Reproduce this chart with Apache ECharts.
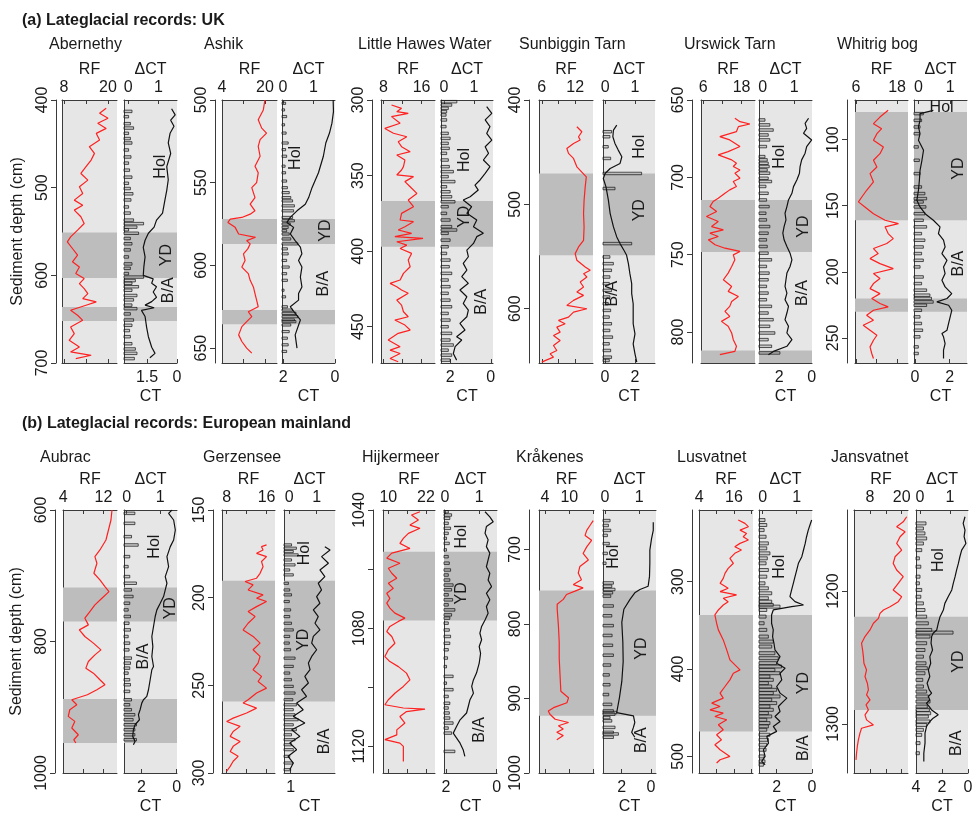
<!DOCTYPE html>
<html><head><meta charset="utf-8">
<script src="https://cdn.jsdelivr.net/npm/echarts@6/dist/echarts.min.js"></script>
<style>html,body{margin:0;padding:0;background:#fff}#c{width:972px;height:817px}</style>
</head><body><div id="c"></div><script>
// ---------- DATA (depth in cm, value) ----------
const sectionTitles = ['(a) Lateglacial records: UK', '(b) Lateglacial records: European mainland'];
const siteNames = ['Abernethy','Ashik','Little Hawes Water','Sunbiggin Tarn','Urswick Tarn','Whitrig bog','Aubrac','Gerzensee','Hijkermeer','Kråkenes','Lusvatnet','Jansvatnet'];

const abernethyRF = [[409.5,19.5],[415.2,17.7],[420.9,20],[426.6,17.2],[432.4,19.5],[438.1,16.8],[445.7,17.7],[453.3,14.9],[460.9,16.3],[468.5,15.4],[476.1,14.0],[483.8,12.6],[491.4,14.5],[499,12.2],[506.6,13.1],[514.2,10.8],[520,13.1],[525.6,10.8],[533.2,12.6],[540.9,13.5],[548.5,11.7],[556.1,9.8],[561.8,8.9],[569.4,10.3],[577,11.7],[584.6,10.3],[590.4,12.2],[598,11.2],[603.7,13.5],[609.4,12.2],[615.1,13.5],[620.8,14.5],[626.5,13.1],[630.3,16.8],[634.1,14],[639.8,9.8],[645.5,11.7],[651.3,13.1],[658.9,9.8],[666.5,10.8],[674.1,9.4],[681.7,12.2],[687.4,9.8],[691.2,15.4],[695,11.2]];
const abernethyDCT = [[410,1.44],[417,1.56],[423,1.41],[430,1.52],[438,1.39],[449,1.33],[461,1.41],[476,1.28],[491,1.33],[503,1.28],[514,1.22],[529,1.14],[537,0.94],[545,0.86],[552,0.67],[560,0.56],[568,0.5],[579,0.56],[590,0.52],[600,0.5],[604,0.83],[609,0.78],[613,0.94],[619,0.83],[625,0.94],[630,0.78],[634,0.56],[637,0.86],[640,0.44],[647,0.56],[659,0.61],[670,0.67],[682,0.78],[689,0.89],[694,0.72]];
const abernethyCT = [[413,2.25],[419,2.42],[427,2.33],[432,2.17],[438,2.42],[444,2.33],[449,2.25],[457,2.42],[465,2.3],[472,2.42],[480,2.37],[488,2.25],[495,2.42],[501,2.33],[507,2.2],[514,2.3],[522,2.42],[529,2.33],[537,2.17],[541,1.67],[545,2.0],[548,2.42],[552,1.92],[558,2.33],[564,2.25],[571,2.33],[579,2.42],[587,2.25],[592,2.33],[598,2.42],[602,1.67],[606,2.08],[609,2.25],[613,1.92],[617,2.25],[623,2.0],[628,2.17],[634,2.25],[638,2.0],[644,2.33],[651,2.17],[657,2.25],[663,2.37],[670,2.33],[678,2.25],[684,2.08],[689,2.0],[695,2.13]];
const abernethyZones = [[551,603],[636,652]];
const abernethyLabels = [['Hol',1.06,476],['YD',1.28,577],['B/A',1.33,617]];

const ashikRF = [[500,20],[506,19.4],[512,17.5],[517,18.8],[520,20.6],[524,18.2],[528,17.5],[534,18.2],[540,16.3],[544,17.5],[550,16.9],[553,15.1],[559,16.3],[563,14.5],[567,16.3],[569,14.5],[571,11.4],[572,7.1],[574,6.2],[577,8.9],[581,10.2],[583,16.5],[585,13.2],[587,14.5],[590,13.6],[593,12],[597,12.6],[601,11.4],[605,13.8],[609,14.5],[613,15.7],[617,16.3],[621,16.9],[625,17.5],[628,13.8],[631,15.1],[634,13.2],[637,11.4],[642,10.2],[646,11.4],[650,13.2],[653,15.1]];
const ashikDCT = [[500,1.64],[507,1.65],[514,1.6],[520,1.52],[526,1.4],[534,1.32],[544,1.16],[553,0.95],[559,0.84],[563,0.73],[567,0.46],[571,0.24],[574,0.13],[577,0.35],[581,0.24],[585,0.4],[589,0.57],[593,0.62],[597,0.51],[601,0.62],[607,0.57],[613,0.62],[617,0.51],[621,0.51],[625,0.24],[629,0.4],[633,0.57],[642,0.4],[650,0.46]];
const ashikCT = [[502,1.91],[506,1.95],[510,1.87],[515,1.95],[520,1.89],[526,1.81],[530,1.91],[534,1.87],[540,1.93],[544,1.91],[549,1.87],[553,1.84],[556,1.77],[559,1.71],[561,1.64],[564,1.57],[567,1.6],[571,1.64],[573,1.57],[575,1.73],[577,1.81],[579,1.87],[581,1.77],[584,1.71],[587,1.44],[590,1.84],[593,1.81],[597,1.87],[601,1.77],[605,1.87],[609,1.84],[615,1.97],[619,1.91],[625,1.84],[627,1.64],[629,1.51],[631,1.44],[633,1.57],[634,1.51],[636,1.71],[640,1.77],[644,1.84],[648,1.81],[652,1.87]];
const ashikZones = [[572,587],[627,635.5]];
const ashikLabels = [['Hol',0.4,535],['YD',1.4,579],['B/A',1.32,611]];

const lhwRF = [[303.3,9.7],[305.5,11.8],[307.7,10.8],[308.8,13.2],[311,9.7],[315.4,11.5],[318.8,8.3],[322,10.1],[324.3,12.9],[327.6,11.1],[330.9,11.8],[334.2,13.6],[336.4,10.8],[339.7,12.5],[344.1,12.2],[346.3,11.8],[349.6,10.8],[350.7,14.3],[354,12.5],[357.4,13.6],[361.8,15],[366.2,13.2],[370.6,14.3],[375,11.8],[379.4,11.5],[380.5,14.3],[383.8,12.5],[386,11.1],[388.2,13.9],[390.4,10.4],[391.5,16.3],[393.8,10.8],[396,12.9],[398.2,11.5],[401.5,13.9],[405.9,13.2],[410.3,13.6],[414.7,12.2],[419.1,11.5],[421.3,9.4],[423.5,10.8],[425.7,11.8],[427.9,13.2],[432.4,10.8],[435.7,11.8],[440.1,12.2],[443.4,13.2],[445.6,10.4],[448.9,12.5],[452.2,13.6],[454.4,11.1],[458.8,9.0],[463.2,11.5],[465.5,9.4],[467.7,11.5],[471,9.4],[473.2,11.1]];
const lhwDCT = [[304.4,1.42],[308.8,1.59],[313.2,1.37],[317.6,1.53],[322.1,1.42],[326.5,1.59],[330.9,1.37],[335.3,1.48],[339.7,1.31],[344.1,1.53],[348.5,1.37],[352.9,1.2],[356.3,1.03],[359.6,1.14],[364,0.87],[366.2,0.64],[370.6,0.92],[375,0.76],[379.4,1.09],[383.8,0.98],[388.2,1.31],[390.4,1.09],[394.9,0.98],[399.3,0.76],[403.7,0.81],[408.1,0.64],[412.5,0.76],[416.9,0.59],[421.3,0.81],[425.7,0.53],[430.2,0.76],[434.6,0.64],[439,0.81],[443.4,0.76],[447.8,0.53],[452.2,0.7],[456.6,0.42],[458.8,0.59],[463.2,0.37],[467.7,0.31],[472.1,0.42]];
const lhwCT = [[301.1,1.67],[303.3,1.92],[305.5,2.09],[307.7,2.17],[309.9,2.2],[313.2,2.17],[317.6,2.2],[322.1,2.09],[325.4,2.0],[328.7,2.09],[332,2.04],[335.3,2.17],[339.7,2.09],[344.1,2.04],[347.4,1.84],[350.7,2.09],[354,1.76],[357.4,2.17],[360.7,2.0],[364,1.92],[367.3,1.76],[370.6,2.09],[375,2.17],[379.4,2.0],[383.8,1.92],[386,1.67],[388.2,2.09],[392.7,2.0],[397.1,2.09],[401.5,2.17],[405.9,2.0],[410.3,2.04],[414.7,1.92],[419.1,2.09],[423.5,2.0],[427.9,2.09],[432.4,2.0],[436.8,1.92],[441.2,2.09],[445.6,2.0],[450,2.09],[454.4,1.92],[458.8,2.0],[462.1,1.84],[465.5,2.09],[468.8,1.92],[472.1,2.0]];
const lhwZones = [[366.8,397.1]];
const lhwLabels = [['Hol',0.7,339.7],['YD',0.7,377.2],['B/A',1.26,433.5]];

const sunbigginRF = [[425.6,12.3],[430.4,13.2],[435.2,12.6],[438.4,12.9],[441.6,11.7],[446.4,10.5],[451.2,10.8],[456,11.7],[464,12.3],[473.6,14],[483.2,13.8],[496,13.6],[508.8,13.5],[521.6,13.6],[534.4,13.5],[540.8,12.6],[547.2,12],[553.6,12.3],[560,13.8],[563.2,14.7],[566.4,13.5],[569.6,14.1],[574.4,12.9],[579.2,13.5],[584,12.3],[587.2,13.5],[592,11.7],[596.8,10.5],[600,14.1],[603.2,11.7],[608,10.8],[611.2,9],[614.4,10.2],[617.6,8.7],[622.4,9.3],[625.6,8.1],[630.4,9.3],[635.2,8.1],[640,8.7],[643.2,7.5],[646.4,8.1],[649,6.9],[651.2,6]];
const sunbigginDCT = [[424,0.39],[428.8,0.28],[435.2,0.26],[441.6,0.33],[448,0.44],[454.4,0.56],[460.8,0.5],[465.6,0.17],[470.4,0],[475.2,-0.06],[483.2,0.03],[496,0.11],[508.8,0.17],[521.6,0.28],[531.2,0.39],[537.6,0.5],[544,0.63],[548.8,0.72],[556.8,0.78],[566.4,0.83],[576,0.89],[585.6,0.89],[595.2,0.94],[604.8,0.94],[614.4,0.94],[624,1.0],[633.6,0.94],[643.2,1.0],[651.2,1.06]];
const sunbigginCT = [[430.4,0.44],[435.2,0.33],[444.8,0.22],[456,0.38],[470.4,2.44],[484.8,0.67],[537.6,1.78],[550.4,0.33],[556.8,0.56],[563.2,0.44],[569.6,0.33],[576,0.29],[582.4,0.44],[588.8,0.33],[595.2,0.22],[601.6,0.38],[608,0.29],[614.4,0.44],[620.8,0.33],[627.2,0.51],[633.6,0.29],[640,0.38],[646.4,0.44],[649.6,0.29]];
const sunbigginZones = [[470.4,548.8]];
const sunbigginLabels = [['Hol',1.17,444.8],['YD',1.17,505.6],['B/A',0.26,585.6]];

const urswickRF = [[661.8,15.9],[664,17.5],[665.5,20.6],[667.2,17],[670.4,16.4],[673.7,11.2],[675.8,14.3],[680.1,17.5],[683.4,13.8],[685.5,10.7],[688.7,14.9],[690.9,16.4],[693,15.4],[695.2,17.5],[697.3,15.9],[700.6,17.5],[702.7,15.4],[705.9,16.4],[708.1,14.3],[710.3,12.8],[713.5,10.7],[715.6,9.1],[718.9,8.1],[722.1,10.2],[725.3,7],[728.5,10.7],[731.8,8.6],[733.9,12.3],[736.1,8.1],[738.2,10.7],[740.4,7.6],[743.6,9.7],[745.8,12.8],[747.9,17.5],[750.1,15.4],[753.3,15.9],[757.6,14.9],[761.9,13.8],[766.2,12.3],[770.5,14.9],[773.7,13.8],[777,17],[780.2,14.9],[783.4,14.3],[786.6,12.8],[789.9,14.3],[793.1,11.7],[796.3,13.8],[800.6,14.9],[804.9,15.4],[809.2,16.4],[812.5,15.9],[814.6,11.2]];
const urswickDCT = [[661.8,1.46],[665.1,1.35],[668.3,1.4],[671.5,1.3],[675.8,1.56],[680.1,1.4],[684.4,1.35],[688.7,1.24],[693,1.19],[697.3,1.17],[701.6,1.09],[706,0.98],[710.3,0.93],[714.6,0.82],[718.9,0.77],[723.2,0.71],[727.5,0.74],[731.8,0.68],[736.1,0.64],[740.4,0.68],[744.7,0.77],[749,0.87],[753.3,0.93],[757.6,0.87],[761.9,0.77],[766.2,0.74],[770.5,0.71],[774.8,0.77],[779.1,0.71],[783.4,0.82],[787.7,0.77],[792,0.71],[796.3,0.82],[800.6,0.77],[804.9,0.93],[809.2,0.77],[812.5,0.34],[814.6,0.18]];
const urswickCT = [[662.9,2.88],[666.1,2.58],[669.4,2.37],[672.6,2.68],[675.8,2.58],[680.1,2.78],[686.6,2.88],[688.7,2.74],[690.9,2.68],[693,2.62],[695.2,2.74],[697.3,2.58],[700.6,2.68],[702.7,2.47],[705.9,2.82],[710.3,2.68],[714.6,2.78],[718.9,2.62],[723.2,2.82],[727.5,2.78],[731.8,2.58],[736.1,2.68],[740.4,2.78],[744.7,2.74],[749,2.68],[753.3,2.47],[757.6,2.78],[761.9,2.62],[766.2,2.68],[770.5,2.78],[774.8,2.68],[779.1,2.78],[783.4,2.47],[787.7,2.68],[792,2.37],[796.3,2.58],[800.6,2.27],[804.9,2.68],[809.2,2.47],[813.5,1.96]];
const urswickZones = [[714.6,748.3],[812,820]];
const urswickLabels = [['Hol',0.55,686.6],['YD',1.3,731.8],['B/A',1.27,774.8]];

const whitrigRF = [[77.8,15.4],[82.9,13],[87.9,11.1],[91.7,13.5],[95.5,12.1],[100.5,11.1],[105.5,14],[110.6,13],[115.6,11.1],[120.7,12.1],[125.7,10.1],[132,11.1],[138.3,9.1],[143.4,7.7],[147.1,6.7],[150.9,8.6],[156,11.1],[161,14.5],[163.5,18.4],[166,14.5],[171.1,15.4],[174.9,16.9],[178.6,15],[182.4,11.1],[186.2,12.5],[190,10.1],[193.8,13],[197.6,16.9],[201.3,11.1],[205.1,13],[208.9,11.1],[212.7,10.1],[216.5,13],[220.2,10.6],[224,13],[226.5,15.4],[229.1,11.1],[232.8,9.1],[236.6,11.1],[240.4,8.1],[244.2,10.1],[248,12.1],[251.8,11.1],[256.8,10.1],[261.8,10.6],[265.6,11.1]];
const whitrigDCT = [[77.8,0.47],[80.3,0.05],[85.4,0.05],[90.4,0],[95.5,0.05],[100.5,0],[108,0.16],[115.6,0.11],[123.2,0.05],[130.7,0.03],[138.3,0],[145.9,-0.05],[150.9,0.05],[156,0.21],[161,0.47],[166,0.68],[171.1,0.63],[176.1,0.79],[181.2,0.84],[186.2,0.74],[191.3,0.9],[196.3,0.79],[201.3,0.84],[206.4,0.74],[211.4,0.84],[216.5,1.05],[220.2,0.9],[222.8,0.58],[225.3,0.95],[229.1,1.05],[234.1,1.0],[239.1,0.95],[244.2,0.9],[246.7,0.74],[249.2,0.79],[254.3,0.84],[259.3,0.79],[265.6,0.79]];
const whitrigCT = [[80.3,0.48],[85.4,0.38],[90.4,0.29],[95.5,0.25],[105.5,0.19],[115.6,0.25],[125.7,0.29],[135.8,0.38],[140.8,0.57],[144.6,0.67],[147.1,0.48],[150.9,0.63],[156,0.57],[161,0.48],[166,0.67],[171.1,0.38],[176.1,0.57],[181.2,0.48],[186.2,0.38],[191.3,0.48],[196.3,0.29],[203.9,0.48],[208.9,0.38],[213.9,0.67],[217.7,0.86],[220.2,0.95],[222.8,1.05],[225.3,0.67],[229.1,0.38],[234.1,0.29],[239.1,0.38],[244.2,0.44],[249.2,0.29],[256.8,0.19],[261.8,0.19]];
const whitrigZones = [[79.1,161],[220.2,230.3]];
const whitrigLabels = [['Hol',0.73,75.8,0],['YD',1.26,121.9],['B/A',1.26,193.8]];

const aubracRF = [[600,13.7],[615.2,13.5],[630.4,13],[645.6,12.5],[660.8,11.3],[670.9,10.3],[681,10.7],[696.2,10.1],[706.3,11.3],[716.5,12.3],[724.1,13.1],[734.2,11.7],[744.3,10.3],[754.4,9.3],[764.6,8.3],[774.7,9],[782.3,7.2],[792.4,8.3],[802.5,10],[812.7,11.5],[820.3,10.3],[830.4,9],[840.5,8.5],[848.1,10],[858.2,11.3],[865.8,12.3],[873.4,10.7],[881,8.8],[888.6,5.7],[896.2,6.7],[903.8,5.3],[913.9,5],[921.5,6.3],[931.6,5.7],[941.8,7],[949.4,6.1],[954.4,6.5]];
const aubracDCT = [[600,1.35],[605.1,1.25],[615.2,1.4],[630.4,1.45],[645.6,1.4],[655.7,1.3],[670.9,1.2],[686.1,1.25],[701.3,1.15],[711.4,1.2],[721.5,1.15],[731.6,1.1],[741.8,1.0],[751.9,0.9],[762,0.85],[777.2,0.8],[792.4,0.75],[807.6,0.78],[822.8,0.75],[838,0.8],[843,0.75],[858.2,0.7],[873.4,0.65],[883.5,0.6],[888.6,0.5],[893.7,0.45],[903.8,0.4],[911.4,0.35],[919,0.38],[926.6,0.25],[934.2,0.2],[944.3,0.18],[951.9,0.25],[957,0.2]];
const aubracCT = [[605.1,2.38],[620.3,2.38],[640.5,2.57],[653.2,2.19],[670.9,2.67],[686.1,2.76],[701.3,2.67],[711.4,2.29],[721.5,2.57],[731.6,2.48],[741.8,2.67],[751.9,2.76],[762,2.63],[772.2,2.71],[782.3,2.63],[792.4,2.76],[802.5,2.67],[812.7,2.71],[825.3,2.57],[832.9,2.63],[840.5,2.67],[848.1,2.76],[858.2,2.67],[865.8,2.63],[875.9,2.67],[888.6,2.57],[896.2,2.67],[903.8,2.57],[911.4,2.38],[919,2.48],[926.6,2.29],[934.2,2.38],[941.8,2.38],[949.4,2.29]];
const aubracZones = [[718,769.6],[887.6,954.4]];
const aubracLabels = [['Hol',0.82,655.7],['YD',1.3,749.4],['B/A',0.5,822.8]];

const gerzenseeRF = [[169.9,16],[170.9,15],[172.8,15.3],[174.7,14],[176.6,16],[179.4,15],[182.3,15.3],[186.1,14.7],[188.9,14],[190.8,11.7],[192.7,13.3],[195.6,12.3],[198.4,15.3],[200.3,14],[202.2,16],[205.1,14],[207.9,12.3],[210.8,13.7],[214.6,12.3],[218.4,11.3],[222.1,13.3],[225.9,14.7],[229.7,13.3],[233.5,14.7],[237.3,14.3],[241.1,13.3],[244.9,15],[247.8,14.3],[251.6,16],[254.4,14],[258.2,12.3],[260.1,11.3],[263,14],[265.8,12],[268.7,9.3],[270.6,8],[273.4,10.7],[276.3,9.3],[279.1,8.7],[282,10.7],[284.8,9.3],[287.7,8.7],[290.5,10.3],[293.3,9.3],[296.2,8.7],[299,8]];
const gerzenseeDCT = [[170.9,1.3],[172.8,1.49],[176.6,1.18],[180.4,1.43],[184.2,1.12],[188,1.3],[191.8,1.06],[195.6,1.18],[199.4,1.0],[203.2,1.12],[207,0.88],[210.8,1.06],[214.6,0.94],[218.4,1.12],[222.1,0.88],[225.9,0.82],[229.7,1.0],[233.5,0.82],[237.3,0.7],[241.1,0.76],[244.9,0.57],[248.7,0.7],[252.5,0.45],[256.3,0.63],[260.1,0.27],[263.9,0.51],[267.7,0.15],[271.5,0.57],[275.3,0.09],[279.1,0.39],[282.9,0.02],[286.7,0.27],[290.5,-0.04],[294.3,0.15],[298.1,0.02]];
const gerzenseeCT = [[169.9,0.98],[171.8,0.87],[173.7,0.94],[175.6,0.83],[178.5,0.98],[181.3,0.9],[184.2,1.02],[187,0.94],[191.8,1.05],[195.6,1.02],[198.4,0.98],[202.2,1.03],[207,1.0],[210.8,1.02],[214.6,0.98],[218.4,0.94],[222.1,1.02],[225.9,1.03],[229.7,1.0],[234.5,0.9],[239.2,0.94],[243,1.02],[246.8,0.98],[250.6,0.94],[254.4,0.9],[258.2,0.95],[261.1,0.87],[263.9,0.94],[266.8,0.9],[269.6,0.83],[272.5,0.94],[275.3,0.87],[278.2,0.98],[281,0.9],[283.9,0.98],[286.7,0.94],[290.5,1.02],[294.3,0.95],[298.1,1.0]];
const gerzenseeZones = [[190.4,259.2]];
const gerzenseeLabels = [['Hol',0.57,174.7],['YD',0.54,224],['B/A',1.3,282]];

const hijkermeerRF = [[1040.6,20.1],[1041.7,17.4],[1043.4,19.6],[1045.1,16.9],[1046.2,20.1],[1047.9,16.4],[1049.6,14.8],[1051.3,13.7],[1053,16.9],[1054.6,11.1],[1056.3,9.5],[1058,13.7],[1059.7,10],[1061.4,11.1],[1063.1,12.7],[1064.8,10],[1066.5,11.6],[1068.2,9.5],[1069.9,10.5],[1071.5,9.5],[1073.2,10.5],[1074.9,12.1],[1076.6,15.3],[1077.7,13.2],[1079.4,10.5],[1081.1,9.5],[1082.8,11.1],[1085.1,12.1],[1087.3,10],[1089.6,8.9],[1091.3,10.5],[1093,13.2],[1095.2,15.8],[1097.5,16.9],[1099.7,14.8],[1102,12.1],[1104.2,10],[1105.9,8.9],[1107,14.8],[1107.4,21.7],[1108.2,15.8],[1109.9,13.7],[1112.1,15.3],[1114.4,12.7],[1116.1,12.7],[1117.7,8.9],[1118.9,13.7],[1120,14.8],[1122.3,14.8],[1125.1,14.8]];
const hijkermeerDCT = [[1040.6,1.17],[1042.3,1.31],[1044,1.41],[1045.6,1.21],[1047.9,1.17],[1050.1,1.26],[1052.4,1.21],[1054.6,1.31],[1056.9,1.26],[1059.2,1.21],[1061.4,1.31],[1063.7,1.26],[1065.9,1.36],[1068.2,1.21],[1070.4,1.31],[1072.7,1.21],[1074.9,1.26],[1077.2,1.17],[1079.4,1.07],[1081.7,1.02],[1083.9,1.07],[1086.2,1.0],[1088.5,1.04],[1091.8,1.0],[1095.2,0.92],[1097.5,0.83],[1099.7,0.78],[1102,0.83],[1104.2,0.73],[1106.5,0.68],[1108.7,0.63],[1111,0.44],[1113.2,0.34],[1115.5,0.24],[1117.2,0.34],[1118.9,0.44],[1121.1,0.53],[1123.4,0.58]];
const hijkermeerCT = [[1040.6,1.91],[1041.7,1.78],[1042.8,1.85],[1044.5,1.91],[1046.2,1.82],[1047.9,1.91],[1049.6,1.98],[1051.3,1.87],[1053.5,1.98],[1055.8,1.91],[1058,1.87],[1060.3,1.82],[1062,1.91],[1063.7,1.85],[1065.4,1.72],[1067,1.78],[1068.7,1.91],[1070.4,1.74],[1072.1,1.91],[1073.8,1.65],[1075.5,1.78],[1076.6,1.85],[1078.3,1.91],[1080.6,1.87],[1082.8,1.82],[1085.1,1.85],[1087.3,1.91],[1090.1,1.94],[1093,1.98],[1096.3,1.72],[1098.6,1.98],[1100.8,1.72],[1103.1,1.91],[1105.4,1.85],[1107,1.91],[1108.7,1.87],[1110.4,1.85],[1112.1,1.72],[1113.8,1.91],[1115.5,1.78],[1121.7,1.65]];
const hijkermeerZones = [[1054.1,1077.4]];
const hijkermeerLabels = [['Hol',0.49,1049],['YD',0.49,1068.2],['B/A',1.02,1114.4]];

const krakenesRF = [[661.2,15.9],[667.8,15.1],[674.4,14.3],[681.1,13.9],[687.7,15.5],[696.5,14.3],[705.3,13.4],[714.1,14.7],[722.9,12.6],[731.7,12.2],[740.5,13],[747.1,11],[751.5,13.4],[755.9,11.4],[760.4,9.3],[767,8.5],[773.6,7],[780.2,7],[802.2,7.3],[824.2,7.5],[846.3,7.5],[868.3,7.7],[890.3,7.9],[899.1,9.8],[905.7,9.4],[912.3,6.1],[916.7,4.8],[921.1,5.2],[927.8,6.5],[932.2,9.8],[936.6,7.3],[941,8.5],[945.4,6.9],[949.8,8.5],[955.5,6.9]];
const krakenesDCT = [[663.4,1.41],[674.4,1.41],[685.5,1.36],[700.9,1.31],[718.5,1.31],[736.1,1.3],[749.3,1.26],[753.7,1.02],[758.1,0.87],[767,0.73],[780.2,0.55],[797.8,0.49],[824.2,0.52],[850.7,0.53],[877.1,0.49],[899.1,0.42],[918.9,0.34],[923.3,0.83],[932.2,0.87],[938.8,0.83],[945.4,0.78],[952,0.87]];
const krakenesCT = [[661.2,2.79],[667.8,2.9],[674.4,2.74],[681.1,2.97],[692.1,2.84],[705.3,2.97],[718.5,3.06],[744.9,2.56],[749.3,2.67],[753.7,2.45],[758.1,2.61],[762.6,2.74],[775.8,2.56],[789,2.67],[802.2,2.56],[815.4,2.65],[828.6,2.61],[841.9,2.56],[855.1,2.74],[868.3,2.84],[881.5,2.79],[894.7,2.88],[907.9,2.67],[916.7,2.56],[918.9,2.33],[921.1,2.45],[925.6,2.79],[930,2.67],[938.8,2.45],[945.4,2.56],[947.6,2.22],[952,2.56]];
const krakenesZones = [[755,923.3]];
const krakenesLabels = [['Hol',0.24,709.7],['YD',1.07,833],['B/A',1.07,956]];

const lusvatnetRF = [[229.5,17.5],[233.3,19.8],[237.1,21],[241,18.1],[244.8,20.4],[248.6,19.2],[252.4,21],[256.2,18.1],[260,16.3],[263.8,18.6],[267.6,16.3],[273.3,14.6],[279,15.8],[284.8,14],[290.5,12.9],[296.2,12.3],[301.9,11.2],[307.6,14],[311.4,11.2],[315.2,16.9],[319,12.3],[322.9,14],[326.7,12.3],[332.4,10.6],[338.1,9.4],[347.6,10],[355.2,10.6],[366.7,12.3],[378.1,13.5],[389.5,14.6],[401,18.1],[404.8,15.8],[412.4,14.6],[420,12.9],[427.6,11.2],[433.3,12.3],[439,8.3],[442.9,11.2],[446.7,7.7],[450.5,12.3],[454.3,9.4],[458.1,13.5],[463.8,10.6],[469.5,12.3],[475.2,10],[481,11.7],[486.7,9.4],[492.4,11.2],[500,14.6],[503.8,11.2],[507.6,10]];
const lusvatnetDCT = [[229.5,1.44],[235.2,1.39],[241,1.34],[248.6,1.29],[256.2,1.25],[263.8,1.2],[271.4,1.15],[279,1.05],[286.7,1.0],[294.3,0.95],[301.9,0.9],[309.5,0.85],[317.1,0.8],[322.9,0.95],[326.7,1.2],[328.6,0.85],[332.4,0.31],[338.1,0.26],[347.6,0.26],[355.2,0.31],[362.9,0.29],[370.5,0.33],[378.1,0.36],[385.7,0.51],[393.3,0.41],[399,0.66],[404.8,0.51],[412.4,0.56],[420,0.41],[427.6,0.51],[433.3,0.71],[437.1,0.61],[442.9,0.46],[448.6,0.51],[454.3,0.36],[460,0.51],[465.7,0.31],[471.4,0.41],[477.1,0.12],[484.8,0.17],[492.4,0.02],[500,0.07],[505.7,-0.03],[509.5,0.07]];
const lusvatnetCT = [[229.5,2.66],[235.2,2.56],[241,2.71],[248.6,2.6],[256.2,2.47],[261.9,2.56],[267.6,2.38],[273.3,2.53],[279,2.6],[286.7,2.47],[294.3,2.56],[301.9,2.66],[307.6,2.47],[313.3,2.28],[319,2.47],[322.9,2.28],[326.7,2.19],[328.6,1.81],[332.4,2.56],[340,2.6],[347.6,2.71],[355.2,2.56],[362.9,2.47],[368.6,2.19],[374.3,2.28],[381.9,2.1],[387.6,1.91],[393.3,2.0],[397.1,1.72],[401,2.1],[404.8,1.81],[408.6,2.38],[412.4,2.19],[416.2,2.47],[420,2.28],[423.8,2.0],[427.6,2.19],[431.4,1.81],[435.2,2.28],[439,2.0],[442.9,2.38],[446.7,2.19],[450.5,2.47],[454.3,2.28],[458.1,2.56],[461.9,2.38],[465.7,2.47],[469.5,2.56],[475.2,2.38],[481,2.47],[486.7,2.56],[492.4,2.6],[500,2.71],[505.7,2.66],[509.5,2.75]];
const lusvatnetZones = [[338.1,471.4]];
const lusvatnetLabels = [['Hol',0.49,282.9],['YD',1.2,416.2],['B/A',1.2,490.5]];

const jansvatnetRF = [[1144.1,21.9],[1147.9,20.6],[1151.6,18.1],[1155.4,21.3],[1159.1,19.4],[1164.2,18.1],[1169.2,20],[1174.2,17.5],[1179.2,16.8],[1184.2,18.1],[1189.2,20.6],[1194.2,18.7],[1199.2,16.8],[1204.3,20],[1208,18.7],[1211.8,15.6],[1214.3,13.1],[1216.8,11.8],[1220.6,11.2],[1224.3,9.3],[1229.3,8],[1234.3,6.1],[1239.3,4.8],[1244.4,5.2],[1249.4,5.5],[1254.4,5.7],[1259.4,6.7],[1264.4,6.1],[1269.4,7],[1274.4,7.4],[1278.2,6.7],[1282,8],[1285.7,6.5],[1289.5,7.4],[1293.2,6.1],[1297,6.7],[1300.8,9.3],[1303.3,4.8],[1307,4.2],[1312,3.6],[1317,3.2],[1322.1,2.9],[1327.1,2.7]];
const jansvatnetDCT = [[1144.1,1.5],[1149.1,1.44],[1154.1,1.5],[1159.1,1.47],[1164.2,1.53],[1169.2,1.39],[1174.2,1.33],[1179.2,1.28],[1184.2,1.22],[1189.2,1.17],[1194.2,1.11],[1199.2,1.06],[1204.3,0.94],[1209.3,0.83],[1214.3,0.78],[1219.3,0.67],[1224.3,0.61],[1229.3,0.56],[1231.8,0.44],[1234.3,0.39],[1239.3,0.37],[1244.4,0.42],[1249.4,0.33],[1254.4,0.36],[1259.4,0.28],[1264.4,0.33],[1269.4,0.24],[1274.4,0.31],[1276.9,0.39],[1279.4,0.28],[1282,0.33],[1284.5,0.22],[1287,0.31],[1289.5,0.39],[1293.2,0.61],[1295.7,0.44],[1298.2,0.33],[1302,0.22],[1307,0.17],[1314.5,0.17],[1322.1,0.13],[1328.3,0.13]];
const jansvatnetCT = [[1149.1,3.23],[1152.9,3.43],[1156.6,3.31],[1160.4,3.18],[1164.2,3.43],[1169.2,3.56],[1175.4,3.74],[1181.7,3.63],[1189.2,3.69],[1194.2,3.74],[1199.2,3.56],[1204.3,3.63],[1209.3,3.43],[1214.3,3.31],[1219.3,3.18],[1224.3,3.05],[1229.3,2.79],[1231.3,1.15],[1234.3,2.92],[1239.3,3.18],[1244.4,3.31],[1249.4,3.43],[1254.4,3.23],[1258.1,3.13],[1261.9,3.31],[1266.9,3.48],[1271.9,3.43],[1275.7,3.18],[1279.4,3.05],[1283.2,2.92],[1287,3.13],[1289.5,2.97],[1292,2.87],[1294.5,3.05],[1298.2,2.92],[1300.8,3.18],[1304.5,3.43],[1308.3,3.56],[1314.5,3.69],[1322.1,3.74]];
const jansvatnetZones = [[1219.3,1289.5]];
const jansvatnetLabels = [['Hol',0.61,1176.7],['YD',1.28,1253.1],['B/A',1.22,1314.5]];

// axis ranges and tick labels
const depthRange = [[400,700],[500,659],[300,474],[400,652],[650,820],[70,269],[600,1000],[150,300],[1040,1129],[647,1000],[218,519],[1139,1337]];
const depthTicks = [[400,500,600,700],[500,550,600,650],[300,350,400,450],[400,500,600],[650,700,750,800],[100,150,200,250],[600,800,1000],[150,200,250,300],[1040,1060,1080,1100,1120],[700,800,900,1000],[300,400,500],[1200,1300]];
const depthLabels = [[400,500,600,700],[500,550,600,650],[300,350,400,450],[400,500,600],[650,700,750,800],[100,150,200,250],[600,800,1000],[150,200,250,300],[1040,1080,1120],[700,800,900,1000],[300,400,500],[1200,1300]];
const rfRange = [[7.45,22.45],[4,24.5],[7.5,18.8],[5.5,15.2],[5.3,22.2],[5.7,21.2],[3.95,14.7],[7.06,17.7],[8.3,24.9],[2.5,16.1],[3.9,22.6],[1.94,22.4]];
const rfTicks = [[8,14,20],[4,12,20],[8,12,16],[6,9,12],[6,12,18],[6,12,18],[4,8,12],[8,12,16],[10,16,22],[4,10,16],[4,10,16,22],[8,14,20]];
const rfLabels = [[8,20],[4,20],[8,16],[6,12],[6,18],[6,18],[4,12],[8,16],[10,22],[4,10],[4,16],[8,20]];
const dctRange = [[-0.14,1.62],[-0.03,1.7],[-0.1,1.63],[-0.07,1.67],[-0.12,1.57],[-0.14,1.53],[-0.08,1.5],[-0.19,1.67],[-0.03,1.52],[-0.06,1.49],[-0.11,1.45],[-0.13,1.6]];
const dctLabels = [0,1];
const ctRange = [[0,2.65],[0,2.05],[-0.11,2.45],[-0.13,3.33],[-0.02,3.25],[-0.06,3.0],[-0.02,3.0],[0,1.15],[-0.01,2.08],[-0.34,3.27],[0,3.0],[0,4.0]];
const ctInverse = [true,true,true,false,true,false,true,true,true,true,true,true];
const ctLabels = [[1.5,0],[2,0],[2,0],[0,2],[2,0],[0,2],[2,0],[1],[2,0],[2,0],[2,0],[4,2,0]];

const rfSeries = [abernethyRF,ashikRF,lhwRF,sunbigginRF,urswickRF,whitrigRF,aubracRF,gerzenseeRF,hijkermeerRF,krakenesRF,lusvatnetRF,jansvatnetRF];
const dctSeries = [abernethyDCT,ashikDCT,lhwDCT,sunbigginDCT,urswickDCT,whitrigDCT,aubracDCT,gerzenseeDCT,hijkermeerDCT,krakenesDCT,lusvatnetDCT,jansvatnetDCT];
const ctSeries = [abernethyCT,ashikCT,lhwCT,sunbigginCT,urswickCT,whitrigCT,aubracCT,gerzenseeCT,hijkermeerCT,krakenesCT,lusvatnetCT,jansvatnetCT];
const zoneSeries = [abernethyZones,ashikZones,lhwZones,sunbigginZones,urswickZones,whitrigZones,aubracZones,gerzenseeZones,hijkermeerZones,krakenesZones,lusvatnetZones,jansvatnetZones];
const zoneLabelSeries = [abernethyLabels,ashikLabels,lhwLabels,sunbigginLabels,urswickLabels,whitrigLabels,aubracLabels,gerzenseeLabels,hijkermeerLabels,krakenesLabels,lusvatnetLabels,jansvatnetLabels];

// ---------- LAYOUT (px): rfLeft, rfRight, ctLeft, ctRight, row, depth-axis offset, name x, bar height ----------
const layout = [
  [62,117,124,177,0,6,49,2.5],[222,277,282,335,0,7,204,2.2],[381,435,441,493,0,9,358,2.5],
  [539,593,603,655,0,10,519,2.5],[701,755,759,812,0,9,684,2.5],[855,908,914,967,0,8,837,2.5],
  [63,117,124,177,1,8,40,2.5],[222,275,284,335,1,9,203,2.2],[383,435,444,497,1,10,362,2.5],
  [539,594,603,656,1,10,516,2.5],[699,753,759,812,1,7,677,3],[854,908,916,968,1,7,831,3]
];
const rowTop = [100,510], plotH = 263, nameTop = [37,450], headTop = [13,416];
const FONT = '"Liberation Sans", Arial, Helvetica, sans-serif';
const TXT = {fontFamily: FONT, fontSize: 16, color: '#1a1a1a', fontWeight: 'normal'};
const BG = '#e6e6e6', BAND = '#bdbdbd', AX = '#3a3a3a';

const option = {animation:false, backgroundColor:'#fff', title:[], grid:[], xAxis:[], yAxis:[], series:[]};
sectionTitles.forEach((t,r) => option.title.push({text:t, left:22, top:headTop[r], padding:0,
  textStyle:Object.assign({}, TXT, {fontWeight:'bold', lineHeight:16})}));

const axLine = {show:true, onZero:false, lineStyle:{color:AX, width:1}};
const plain = v => String(v);
function barRender(h){
  return function(params, api){
    const p = api.coord([api.value(0), api.value(1)]);
    const x0 = params.coordSys.x;
    return {type:'rect', shape:{x:x0, y:p[1]-h/2, width:Math.max(0,p[0]-x0), height:h},
      style:{fill:'rgba(150,150,150,0.35)', stroke:'#111', lineWidth:0.7}};
  };
}

siteNames.forEach((name, i) => {
  const [rfL, rfR, ctL, ctR, row, off, tx, bh] = layout[i];
  const top = rowTop[row];
  option.title.push({text:name, left:tx, top:nameTop[row], padding:0, textStyle:Object.assign({}, TXT, {lineHeight:16})});
  option.grid.push({left:rfL, top:top, width:rfR-rfL, height:plotH, show:true, backgroundColor:BG, borderWidth:0, outerBoundsMode:'none'});
  option.grid.push({left:ctL, top:top, width:ctR-ctL, height:plotH, show:true, backgroundColor:BG, borderWidth:0, outerBoundsMode:'none'});
  const g1 = 2*i, g2 = 2*i+1;
  option.xAxis.push({type:'value', gridIndex:g1, position:'top', min:rfRange[i][0], max:rfRange[i][1],
    axisLine:axLine, splitLine:{show:false},
    axisTick:{show:true, inside:true, length:4, customValues:rfTicks[i], lineStyle:{color:AX}},
    axisLabel:{show:true, customValues:rfLabels[i], margin:4, formatter:plain, ...TXT},
    name:'RF', nameLocation:'middle', nameGap:22, nameMoveOverlap:false, nameTextStyle:TXT});
  option.xAxis.push({type:'value', gridIndex:g1, position:'bottom', min:rfRange[i][0], max:rfRange[i][1],
    axisLine:axLine, splitLine:{show:false},
    axisTick:{show:true, inside:true, length:4, customValues:rfTicks[i], lineStyle:{color:AX}},
    axisLabel:{show:false}});
  option.xAxis.push({type:'value', gridIndex:g2, position:'top', min:dctRange[i][0], max:dctRange[i][1],
    axisLine:axLine, splitLine:{show:false},
    axisTick:{show:true, inside:true, length:4, customValues:dctLabels, lineStyle:{color:AX}},
    axisLabel:{show:true, customValues:dctLabels, margin:4, formatter:plain, ...TXT},
    name:'ΔCT', nameLocation:'middle', nameGap:22, nameMoveOverlap:false, nameTextStyle:TXT});
  option.xAxis.push({type:'value', gridIndex:g2, position:'bottom', min:ctRange[i][0], max:ctRange[i][1], inverse:ctInverse[i],
    axisLine:axLine, splitLine:{show:false},
    axisTick:{show:true, inside:true, length:4, customValues:ctLabels[i], lineStyle:{color:AX}},
    axisLabel:{show:true, customValues:ctLabels[i], margin:7, formatter:plain, ...TXT},
    name:'CT', nameLocation:'middle', nameGap:26, nameMoveOverlap:false, nameTextStyle:TXT});
  const yBase = {type:'value', inverse:true, min:depthRange[i][0], max:depthRange[i][1], splitLine:{show:false}};
  option.yAxis.push(Object.assign({}, yBase, {gridIndex:g1, position:'left', axisLine:axLine, axisTick:{show:false}, axisLabel:{show:false}}));
  option.yAxis.push(Object.assign({}, yBase, {gridIndex:g1, position:'left', offset:off, axisLine:axLine,
    axisTick:{show:true, length:5, customValues:depthTicks[i], lineStyle:{color:AX}},
    axisLabel:{show:true, rotate:90, margin:5, customValues:depthLabels[i], formatter:plain, ...TXT},
    name:(i===0||i===6)?'Sediment depth (cm)':'', nameLocation:'middle', nameRotate:90, nameGap:30, nameMoveOverlap:false, nameTextStyle:TXT}));
  option.yAxis.push(Object.assign({}, yBase, {gridIndex:g2, position:'left', axisLine:axLine, axisTick:{show:false}, axisLabel:{show:false}}));

  const band = {silent:true, itemStyle:{color:BAND, opacity:1, borderWidth:0}, label:{show:false},
    data: zoneSeries[i].map(z => [{yAxis:z[0]}, {yAxis:z[1]}])};
  option.series.push({type:'line', xAxisIndex:4*i, yAxisIndex:3*i, symbol:'none', silent:true,
    lineStyle:{color:'#ff2020', width:1.2}, data: rfSeries[i].map(p => [p[1], p[0]]), markArea:band, z:3});
  option.series.push({type:'custom', xAxisIndex:4*i+3, yAxisIndex:3*i+2, silent:true, encode:{x:0, y:1},
    renderItem: barRender(bh), data: ctSeries[i].map(p => [p[1], p[0]]), z:2});
  option.series.push({type:'line', xAxisIndex:4*i+2, yAxisIndex:3*i+2, symbol:'none', silent:true,
    lineStyle:{color:'#111', width:1.2}, data: dctSeries[i].map(p => [p[1], p[0]]), markArea:band, z:3});
  option.series.push({type:'scatter', xAxisIndex:4*i+2, yAxisIndex:3*i+2, symbolSize:0, silent:true, z:5,
    itemStyle:{color:'#1a1a1a', opacity:0},
    data: zoneLabelSeries[i].map(l => ({value:[l[1], l[2]],
      label:{show:true, formatter:l[0], rotate:(l[3]===undefined?90:l[3]), position:'inside',
        textBorderWidth:0, textBorderColor:'transparent', opacity:1, ...TXT}}))});
});

const chart = echarts.init(document.getElementById('c'), null, {renderer:'canvas'});
chart.setOption(option);
</script></body></html>
